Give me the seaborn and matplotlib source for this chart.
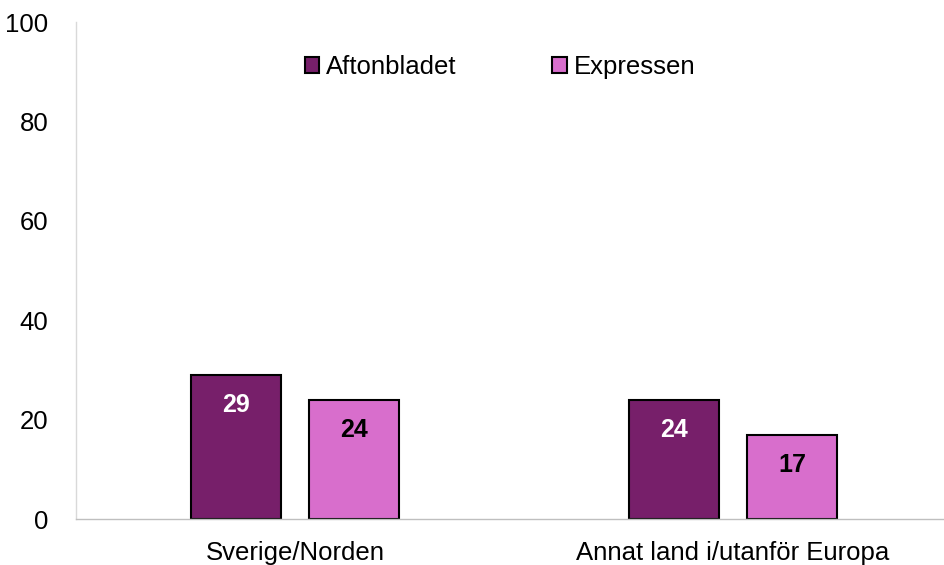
import seaborn as sns
import matplotlib.pyplot as plt
import pandas as pd

# Data
kategorier = ['Sverige/Norden', 'Annat land i/utanför Europa']
tidningar = ['Aftonbladet', 'Expressen']
aftonbladet = [29, 24]
expressen = [24, 17]

df = pd.DataFrame({
    'kategori': kategorier * 2,
    'tidning': [tidningar[0]] * 2 + [tidningar[1]] * 2,
    'andel': aftonbladet + expressen,
})

sns.set_style('white')
plt.rcParams['font.family'] = ['Liberation Sans', 'DejaVu Sans']
plt.rcParams['text.color'] = 'black'
plt.rcParams['xtick.color'] = 'black'
plt.rcParams['ytick.color'] = 'black'

fig = plt.figure(figsize=(9.45, 5.65), dpi=100)
ax = fig.add_axes([0.0804, 0.0814, 0.927, 0.8796])

farger = {'Aftonbladet': '#771F6A', 'Expressen': '#D86ECC'}
sns.barplot(data=df, x='kategori', y='andel', hue='tidning', order=kategorier,
            hue_order=tidningar, palette=farger, width=0.54, gap=0.24,
            edgecolor='black', linewidth=1.5, saturation=1, ax=ax)

# Värdeetiketter inne i staplarna
for cont, farg in zip(ax.containers, ['white', 'black']):
    for bar in cont:
        h = bar.get_height()
        ax.annotate(f'{h:.0f}', (bar.get_x() + bar.get_width() / 2, h),
                    xytext=(0, -30), textcoords='offset pixels',
                    ha='center', va='center', fontsize=18, fontweight='bold', color=farg)

ax.set_ylim(0, 100)
ax.set_xlim(-0.5, 1.5)
ax.set_yticks(range(0, 101, 20))
ax.set_xlabel('')
ax.set_ylabel('')
ax.tick_params(axis='both', labelsize=18.5, length=0)
ax.tick_params(axis='x', pad=16)
ax.tick_params(axis='y', pad=20)
ax.set_xticks([-0.5, 0.5, 1.5], minor=True)
ax.tick_params(axis='x', which='minor', length=6, color='#BFBFBF', width=1)

for s in ['top', 'right']:
    ax.spines[s].set_visible(False)
ax.spines['left'].set_color('#D9D9D9')
ax.spines['bottom'].set_color('#BFBFBF')
ax.spines['left'].set_linewidth(1)
ax.spines['bottom'].set_linewidth(1)

leg = ax.legend(loc='upper center', bbox_to_anchor=(0.484, 0.98), ncol=2, frameon=False,
                fontsize=18.5, handlelength=0.58, handleheight=0.58, handletextpad=0.27,
                columnspacing=3.7, labelcolor='black')
for h in leg.legend_handles:
    h.set_edgecolor('black')
    h.set_linewidth(1.5)

fig.savefig('out.png', dpi=100)
